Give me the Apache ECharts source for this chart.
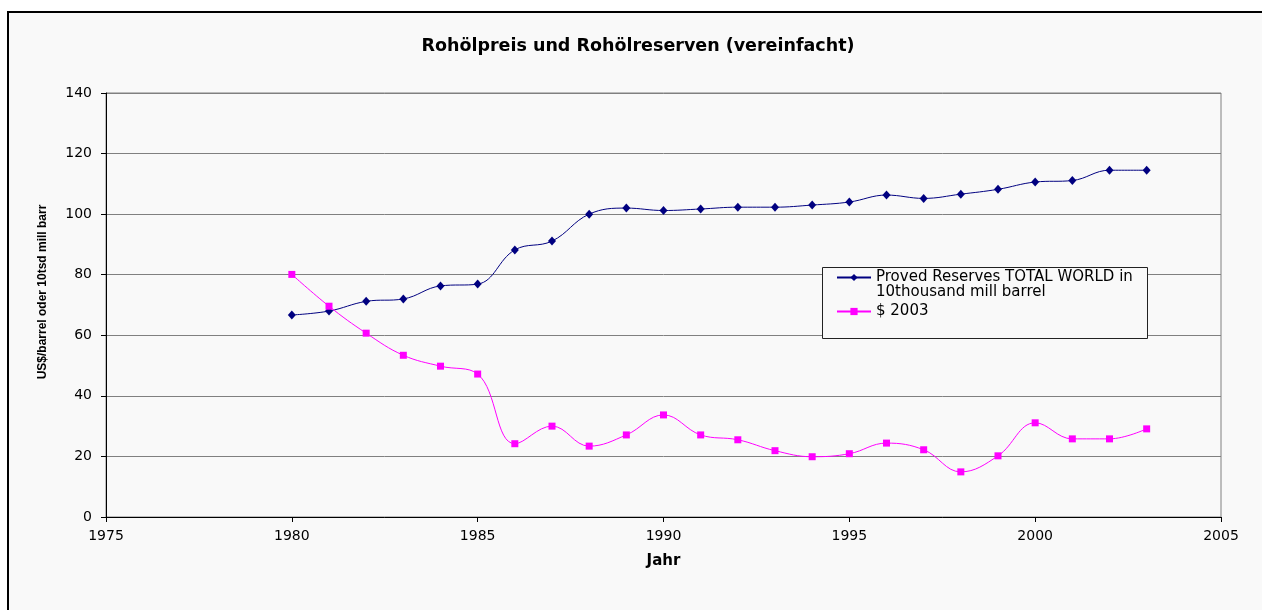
<!DOCTYPE html>
<html>
<head>
<meta charset="utf-8">
<script src="https://cdn.jsdelivr.net/npm/echarts@6/dist/echarts.min.js"></script>
<style>
  html, body { margin: 0; padding: 0; background: #ffffff; }
  #frame { position: absolute; left: 7px; top: 11px; width: 1300px; height: 700px; border: 2px solid #000; background: #f9f9f9; }
  #chart { position: absolute; left: 0; top: 0; width: 1262px; height: 610px; }
</style>
</head>
<body>
<div id="frame"></div>
<div id="chart"></div>
<script>
const years = [1980, 1981, 1982, 1983, 1984, 1985, 1986, 1987, 1988, 1989, 1990, 1991,
               1992, 1993, 1994, 1995, 1996, 1997, 1998, 1999, 2000, 2001, 2002, 2003];
const reserves = [66.7, 68.0, 71.2, 72.0, 76.3, 76.9, 88.2, 91.1, 100.0, 102.0, 101.2, 101.7,
                  102.3, 102.3, 103.0, 104.0, 106.3, 105.2, 106.6, 108.2, 110.6, 111.1, 114.5, 114.5];
const price2003 = [80.1, 69.6, 60.7, 53.4, 49.8, 47.2, 24.2, 30.0, 23.4, 27.1, 33.7, 27.1,
                   25.5, 21.9, 19.9, 20.9, 24.4, 22.2, 14.9, 20.2, 31.1, 25.8, 25.8, 29.1];
const seriesNames = ['Proved Reserves TOTAL WORLD in 10thousand mill barrel', '$ 2003'];
const legendLabels = ['\nProved Reserves TOTAL WORLD in\n10thousand mill barrel', '$ 2003'];
const titleText = 'Rohölpreis und Rohölreserven (vereinfacht)';
const xAxisName = 'Jahr';
const yAxisName = 'US$/barrel oder 10tsd mill barr';

const chart = echarts.init(document.getElementById('chart'), null, { renderer: 'canvas' });
const font = 'DejaVu Sans';
const legendBase = {
  orient: 'vertical',
  left: 836,
  padding: 0,
  itemWidth: 34,
  itemHeight: 9,
  itemGap: 0,
  selectedMode: false,
  textStyle: { fontFamily: font, fontSize: 15, color: '#000', lineHeight: 15 }
};
chart.setOption({
  backgroundColor: 'transparent',
  animation: false,
  title: {
    text: titleText,
    left: 633,
    textAlign: 'center',
    top: 32,
    textStyle: { fontFamily: font, fontSize: 17.5, fontWeight: 'bold', color: '#000' }
  },
  legend: [
    Object.assign({}, legendBase, {
      top: 255,
      data: [seriesNames[0]],
      formatter: () => legendLabels[0]
    }),
    Object.assign({}, legendBase, {
      top: 304,
      data: [seriesNames[1]],
      formatter: () => legendLabels[1]
    })
  ],
  graphic: [{
    type: 'rect',
    z: 3,
    silent: true,
    shape: { x: 822.5, y: 267.5, width: 325, height: 71 },
    style: { fill: '#f9f9f9', stroke: '#222', lineWidth: 1 }
  }],
  grid: {
    left: 106, right: 41, top: 93, bottom: 93,
    containLabel: false,
    show: true,
    borderColor: '#808080',
    borderWidth: 1,
    backgroundColor: 'transparent'
  },
  xAxis: {
    type: 'value',
    min: 1975, max: 2005, interval: 5,
    name: xAxisName,
    nameLocation: 'middle',
    nameGap: 37,
    nameTextStyle: { fontFamily: font, fontSize: 15, fontWeight: 'bold', color: '#000' },
    axisLine: { show: true, lineStyle: { color: '#000', width: 1 } },
    axisTick: { show: true, inside: false, length: 5, lineStyle: { color: '#000' } },
    axisLabel: { fontFamily: font, fontSize: 14, color: '#000', margin: 12, formatter: v => String(v) },
    splitLine: { show: false }
  },
  yAxis: {
    type: 'value',
    min: 0, max: 140, interval: 20,
    name: yAxisName,
    nameLocation: 'middle',
    nameRotate: 90,
    nameGap: 57,
    nameTextStyle: {
      fontFamily: "'Liberation Sans'",
      fontSize: 12, fontWeight: 'bold', color: '#000',
      padding: [0, 0, 0, 26]
    },
    axisLine: { show: true, lineStyle: { color: '#000', width: 1 } },
    axisTick: { show: true, inside: false, length: 5, lineStyle: { color: '#000' } },
    axisLabel: { fontFamily: font, fontSize: 14, color: '#000', margin: 14 },
    splitLine: { show: true, lineStyle: { color: '#808080', width: 1 } }
  },
  series: [
    {
      name: seriesNames[0],
      type: 'line',
      smooth: 0.4,
      data: years.map((y, i) => [y, reserves[i]]),
      symbol: 'diamond',
      symbolSize: [8, 9],
      showSymbol: true,
      lineStyle: { color: '#000080', width: 1 },
      itemStyle: { color: '#000080' },
      z: 2
    },
    {
      name: seriesNames[1],
      type: 'line',
      smooth: 0.4,
      data: years.map((y, i) => [y, price2003[i]]),
      symbol: 'rect',
      symbolSize: 7,
      showSymbol: true,
      lineStyle: { color: '#ff00ff', width: 1 },
      itemStyle: { color: '#ff00ff' },
      z: 2
    }
  ]
});
</script>
</body>
</html>
